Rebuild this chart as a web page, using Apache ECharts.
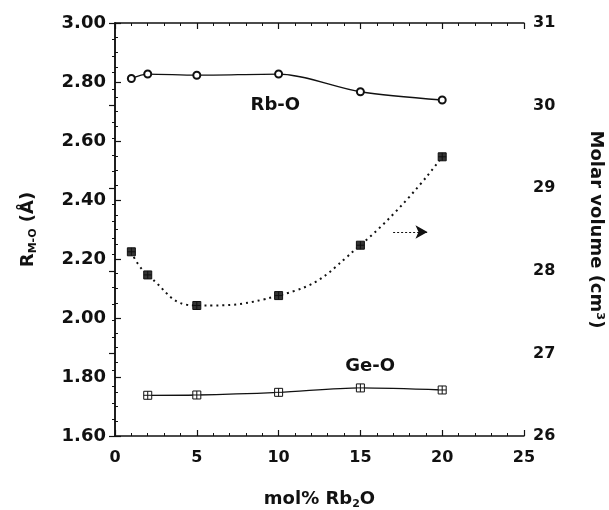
<!DOCTYPE html>
<html>
<head>
<meta charset="utf-8">
<script src="https://cdn.jsdelivr.net/npm/echarts@6/dist/echarts.min.js"></script>
<style>
  html, body { margin: 0; padding: 0; background: #fff; }
  #chart { width: 609px; height: 510px; }
</style>
</head>
<body>
<div id="chart"></div>
<script>
( () => {
    // mol% Rb2O
    const rbOX = [ 1, 2, 5, 10, 15, 20 ];
    const rbOValues = [ 2.812, 2.827, 2.823, 2.827, 2.767, 2.739 ];

    const geOX = [ 2, 5, 10, 15, 20 ];
    const geOValues = [ 1.738, 1.739, 1.748, 1.763, 1.756 ];

    const molarX = [ 1, 2, 5, 10, 15, 20 ];
    const molarValues = [ 28.23, 27.95, 27.58, 27.70, 28.31, 29.38 ];

    const font = 'DejaVu Sans';
    const black = '#111';

    const pairs = ( xs, ys ) => xs.map( ( x, i ) => [ x, ys[ i ] ] );

    const chart = echarts.init( document.getElementById( 'chart' ), null, { renderer: 'canvas' } );

    const baseAxisLine = { show: true, lineStyle: { color: black, width: 1.5 } };
    const majorTick = { inside: true, length: 6, lineStyle: { color: black, width: 1.2 } };
    const minorTick = ( n ) => ( { show: true, splitNumber: n, length: 3, lineStyle: { color: black } } );
    const subRich = {
        a: { fontFamily: font, fontWeight: 'bold', fontSize: 18, color: black },
        s: { fontFamily: font, fontWeight: 'bold', fontSize: 11, color: black, padding: [ 11, 0, 0, 0 ] },
    };

    const option = {
        animation: false,
        backgroundColor: '#fff',
        grid: { left: 115, right: 85, top: 23, bottom: 74, containLabel: false, outerBoundsMode: 'none' },
        xAxis: [
            {
                type: 'value',
                min: 0,
                max: 25,
                interval: 5,
                position: 'bottom',
                axisLine: baseAxisLine,
                axisTick: majorTick,
                minorTick: minorTick( 5 ),
                splitLine: { show: false },
                axisLabel: { color: black, fontFamily: font, fontWeight: 'bold', fontSize: 16, margin: 14 },
                name: '{a|mol% Rb}{s|2}{a|O}',
                nameLocation: 'middle',
                nameGap: 52,
                nameTextStyle: { rich: subRich },
            },
            {
                type: 'value',
                min: 0,
                max: 25,
                interval: 5,
                position: 'top',
                axisLine: baseAxisLine,
                axisTick: majorTick,
                minorTick: minorTick( 5 ),
                splitLine: { show: false },
                axisLabel: { show: false },
            },
        ],
        yAxis: [
            {
                type: 'value',
                min: 1.6,
                max: 3.0,
                interval: 0.2,
                position: 'left',
                axisLine: baseAxisLine,
                axisTick: majorTick,
                minorTick: minorTick( 4 ),
                splitLine: { show: false },
                axisLabel: {
                    color: black,
                    fontFamily: font,
                    fontWeight: 'bold',
                    fontSize: 18,
                    margin: 9,
                    formatter: ( v ) => v.toFixed( 2 ),
                },
                name: '{a|R}{s|M-O}{a| (Å)}',
                nameLocation: 'middle',
                nameGap: 76,
                nameTextStyle: { rich: subRich },
            },
            {
                type: 'value',
                min: 26,
                max: 31,
                interval: 1,
                position: 'right',
                axisLine: baseAxisLine,
                axisTick: majorTick,
                minorTick: minorTick( 5 ),
                splitLine: { show: false },
                axisLabel: { color: black, fontFamily: font, fontWeight: 'bold', fontSize: 16, margin: 9 },
                name: 'Molar volume (cm³)',
                nameLocation: 'middle',
                nameGap: 63,
                nameRotate: -90,
                nameTextStyle: { color: black, fontFamily: font, fontWeight: 'bold', fontSize: 18 },
            },
        ],
        series: [
            {
                name: 'Rb-O',
                type: 'line',
                xAxisIndex: 0,
                yAxisIndex: 0,
                data: pairs( rbOX, rbOValues ),
                smooth: 0.3,
                symbol: 'emptyCircle',
                symbolSize: 7,
                lineStyle: { color: black, width: 1.3 },
                itemStyle: { color: black, borderColor: black, borderWidth: 1.2 },
                markPoint: {
                    symbol: 'circle',
                    symbolSize: 0,
                    label: { show: true, position: 'inside', formatter: 'Rb-O', color: black, fontFamily: font, fontWeight: 'bold', fontSize: 18 },
                    data: [ { coord: [ 9.8, 2.722 ] } ],
                },
            },
            {
                name: 'Ge-O',
                type: 'line',
                xAxisIndex: 0,
                yAxisIndex: 0,
                data: pairs( geOX, geOValues ),
                smooth: 0.3,
                symbol: 'path://M0,0H10V10H0Z M5,0V10 M0,5H10',
                symbolSize: 8,
                lineStyle: { color: black, width: 1.3 },
                itemStyle: { color: '#fff', borderColor: black, borderWidth: 1 },
                markPoint: {
                    symbol: 'circle',
                    symbolSize: 0,
                    label: { show: true, position: 'inside', formatter: 'Ge-O', color: black, fontFamily: font, fontWeight: 'bold', fontSize: 18 },
                    data: [ { coord: [ 15.6, 1.835 ] } ],
                },
            },
            {
                name: 'Molar volume',
                type: 'line',
                xAxisIndex: 0,
                yAxisIndex: 1,
                data: pairs( molarX, molarValues ),
                smooth: 0.5,
                symbol: 'path://M0,0H10V10H0Z M5,0V10 M0,5H10',
                symbolSize: 8,
                lineStyle: { color: black, width: 2, type: [ 2, 4 ] },
                itemStyle: { color: '#333', borderColor: black, borderWidth: 1 },
                markLine: {
                    silent: true,
                    symbol: [ 'none', 'arrow' ],
                    symbolSize: [ 10, 12 ],
                    label: { show: false },
                    lineStyle: { color: black, width: 1.2, type: [ 2, 2 ] },
                    data: [ [ { coord: [ 17, 28.47 ] }, { coord: [ 19.1, 28.47 ] } ] ],
                },
            },
        ],
    };

    chart.setOption( option );
} ) ();
</script>
</body>
</html>
